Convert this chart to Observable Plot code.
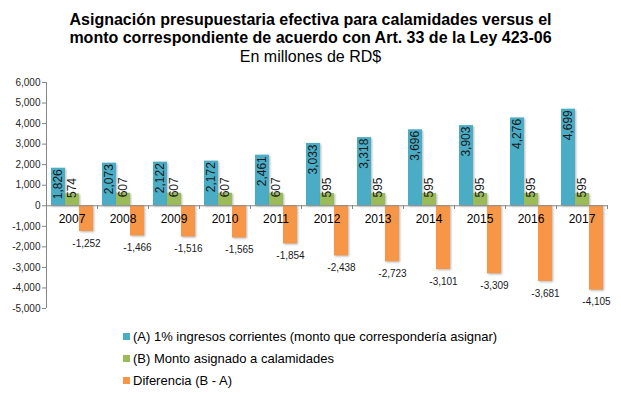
<!DOCTYPE html>
<html><head><meta charset="utf-8">
<script src="https://cdn.jsdelivr.net/npm/d3@7"></script>
<script src="https://cdn.jsdelivr.net/npm/@observablehq/plot@0.6"></script>
<style>
body{margin:0;width:621px;height:393px;position:relative;background:#fff;font-family:"Liberation Sans",Arial,sans-serif;overflow:hidden}
#title{position:absolute;top:10.7px;left:0;width:621px;text-align:center;font-size:16px;color:#000}
#title .t{font-weight:bold;line-height:18px}
#title .s{line-height:20px}
#chart{position:absolute;top:70px;left:0}
#legend{position:absolute;top:325px;left:123px;font-size:13px;color:#000}
.item{height:22px;display:flex;align-items:center}
.sw{width:7px;height:7px;margin-right:3px}
#chart g[aria-label="bar"] rect{filter:drop-shadow(1.5px 1.5px 1px rgba(0,0,0,0.3))}
</style></head>
<body>
<div id="title"></div><div id="chart"></div><div id="legend"></div>
<script>
const titleLines = ["Asignación presupuestaria efectiva para calamidades versus el", "monto correspondiente de acuerdo con Art. 33 de la Ley 423-06"];
const subtitle = "En millones de RD$";
const years = [2007, 2008, 2009, 2010, 2011, 2012, 2013, 2014, 2015, 2016, 2017];
const seriesKeys = ["A", "B", "D"];
const seriesNames = ["(A) 1% ingresos corrientes (monto que correspondería asignar)", "(B) Monto asignado a calamidades", "Diferencia (B - A)"];
const seriesColors = ["#4BACC6", "#9BBB59", "#F79646"];
const valuesA = [1826, 2073, 2122, 2172, 2461, 3033, 3318, 3696, 3903, 4276, 4699];
const valuesB = [574, 607, 607, 607, 607, 595, 595, 595, 595, 595, 595];
const valuesD = [-1252, -1466, -1516, -1565, -1854, -2438, -2723, -3101, -3309, -3681, -4105];
const yTicks = [-5000, -4000, -3000, -2000, -1000, 0, 1000, 2000, 3000, 4000, 5000, 6000];

const fmt = d3.formatLocale({decimal: ".", thousands: ",", grouping: [3], currency: ["$", ""], minus: "-"}).format(",");
const seriesValues = [valuesA, valuesB, valuesD];
const rows = [];
years.forEach((yr, i) => seriesKeys.forEach((k, j) => rows.push({year: yr, series: k, value: seriesValues[j][i]})));
const rowsA = rows.filter(d => d.series === "A");
const rowsB = rows.filter(d => d.series === "B");
const rowsD = rows.filter(d => d.series === "D");

document.getElementById("title").innerHTML =
  titleLines.map(t => `<div class="t">${t}</div>`).join("") + `<div class="s">${subtitle}</div>`;

const chart = Plot.plot({
  width: 621, height: 250,
  marginTop: 12, marginBottom: 12, marginLeft: 43, marginRight: 11,
  style: {fontFamily: '"Liberation Sans", Arial, sans-serif', fontSize: "10px", color: "#262626", background: "transparent", overflow: "visible"},
  fx: {domain: years, padding: 0, axis: null},
  x: {domain: seriesKeys, paddingInner: 0, paddingOuter: 0.275, axis: null},
  y: {domain: [-5000, 6000], axis: null},
  color: {domain: seriesKeys, range: seriesColors},
  marks: [
    Plot.axisY({ticks: yTicks, tickSize: 4, tickPadding: 2, tickFormat: fmt, label: null, stroke: "#868686", fill: "#262626", fontSize: 10}),
    Plot.barY(rows, {fx: "year", x: "series", y: "value", fill: "series"}),
    Plot.ruleY([0], {stroke: "#868686"}),
    Plot.text(years, {fx: d => d, y: 0, text: d => String(d), dy: 13, fontSize: 12, fill: "#000"}),
    Plot.text(rowsA, {fx: "year", x: "series", y: "value", text: d => fmt(d.value), rotate: -90, textAnchor: "end", dy: 1, fontSize: 12, fill: "#1a1a1a"}),
    Plot.text(rowsB, {fx: "year", x: "series", y: "value", text: d => fmt(d.value), rotate: -90, textAnchor: "start", dy: 4, fontSize: 12, fill: "#1a1a1a"}),
    Plot.text(rowsD, {fx: "year", x: "series", y: "value", text: d => fmt(d.value), dy: 12, fontSize: 10, fill: "#1a1a1a"})
  ]
});

// axis line and category boundary ticks, positioned through the plot's own scales
const fxS = chart.scale("fx"), yS = chart.scale("y");
const svg = d3.select(chart);
const bounds = years.map(v => fxS.apply(v));
bounds.push(bounds[bounds.length - 1] + fxS.bandwidth);
const g = svg.append("g").attr("stroke", "#868686").attr("shape-rendering", "crispEdges");
g.append("line").attr("x1", bounds[0] + 0.5).attr("x2", bounds[0] + 0.5)
  .attr("y1", yS.apply(yTicks[yTicks.length - 1])).attr("y2", yS.apply(yTicks[0]));
const y0 = yS.apply(0);
g.selectAll(null).data(bounds).enter().append("line")
  .attr("x1", d => d + 0.5).attr("x2", d => d + 0.5).attr("y1", y0).attr("y2", y0 + 4);
document.getElementById("chart").appendChild(chart);

const legend = d3.select("#legend");
seriesKeys.forEach((k, i) => {
  const it = legend.append("div").attr("class", "item");
  it.append("div").attr("class", "sw").style("background", seriesColors[i]);
  it.append("span").text(seriesNames[i]);
});
</script>
</body></html>
